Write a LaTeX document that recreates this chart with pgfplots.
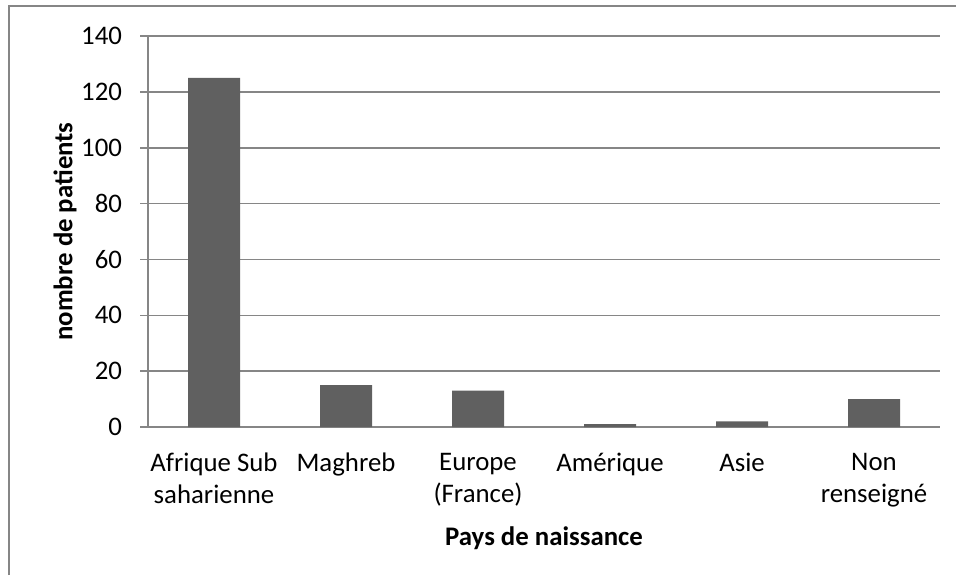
\documentclass[border=0pt]{standalone}
\usepackage{pgfplots}
\pgfplotsset{compat=1.18}
\usepackage{fontspec}
\setmainfont{Carlito}
\definecolor{barc}{RGB}{96,96,96}
\definecolor{gridc}{RGB}{134,134,134}
\begin{document}
\begin{tikzpicture}
\path[use as bounding box] (0,0) rectangle (478pt,-287.5pt);
\draw[gridc, line width=0.8pt] (4.5pt,-287.5pt) -- (4.5pt,-3pt) -- (478pt,-3pt);
\begin{axis}[
  at={(74pt,-213.5pt)}, anchor=south west,
  scale only axis, width=396pt, height=195.5pt,
  xmin=-0.5, xmax=5.5, ymin=0, ymax=140,
  ytick={0,20,...,140},
  xtick=data,
  xticklabels={{Afrique Sub\\saharienne},Maghreb,{Europe\\(France)},Amérique,Asie,{Non\\renseigné}},
  xticklabel style={align=center, font=\fontsize{13.4}{16}\selectfont, yshift=-5.5pt},
  yticklabel style={font=\fontsize{13.4}{16}\selectfont, xshift=-5.5pt},
  /pgf/number format/assume math mode=true,
  axis x line*=bottom, axis y line*=left,
  x axis line style={gridc, line width=0.8pt, shorten <=-4pt},
  y axis line style={gridc, line width=0.8pt},
  major x tick style={draw=none},
  major y tick style={gridc, line width=0.8pt},
  tick align=outside, major tick length=4pt,
  ymajorgrids, grid style={gridc, line width=0.8pt},
  xlabel={\bfseries Pays de naissance},
  ylabel={\bfseries nombre de patients},
  label style={font=\fontsize{13.4}{16}\selectfont},
  xlabel style={at={(axis description cs:0.5,-0.285)}, anchor=center},
  ylabel style={at={(axis description cs:-0.1048,0.5)}, anchor=center, rotate=0},
  ybar, bar width=26pt,
]
\addplot[fill=barc, draw=none] coordinates {(0,125) (1,15) (2,13) (3,1) (4,2) (5,10)};
\end{axis}
\end{tikzpicture}
\end{document}
